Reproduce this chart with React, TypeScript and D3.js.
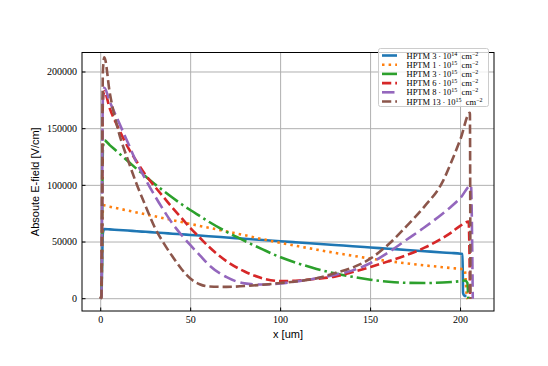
import * as d3 from "d3";

// body grid (um) shared by all six curves
const X_BODY = [2, 5, 10, 15, 20, 25, 30, 35, 40, 45, 50, 55, 60, 70, 80, 90, 100, 110, 120, 130, 140, 150, 160, 170, 180, 190, 195, 200];
const X_LEFT = [0, 0.4, 1.2];

const blueLeft = [0, 3000, 58000];
const blueBody = [61500, 61200, 60600, 60100, 59500, 59000, 58400, 57900, 57300, 56800, 56200, 55700, 55100, 54000, 52900, 51800, 50700, 49600, 48500, 47400, 46300, 45200, 44100, 43000, 41900, 40800, 40300, 39700];
const blueTailX = [201.1, 201.4, 202.2, 203.3];
const blueTailY = [39500, 5000, 2500, 2500];

const orangeLeft = [0, 3000, 78000];
const orangeBody = [82300, 81200, 79500, 77800, 76100, 74400, 72700, 71000, 69300, 67600, 65900, 64200, 62600, 59300, 56000, 52500, 49200, 46200, 43300, 40500, 37900, 35400, 33200, 31200, 29400, 27800, 27000, 26300];
const orangeTailX = [202.3, 203.6, 204];
const orangeTailY = [25800, 1000, 0];

const greenLeft = [0, 3000, 132000];
const greenBody = [139700, 135500, 128500, 121500, 114500, 107800, 101200, 95000, 89000, 83300, 78000, 73000, 68000, 59000, 51000, 43500, 36500, 31000, 26300, 22400, 19300, 16700, 15000, 14000, 13800, 14300, 14800, 15500];
const greenTailX = [202.5, 203.8, 204.3];
const greenTailY = [16000, 14000, 0];

const redLeft = [0, 3000, 174000];
const redBody = [183000, 168000, 150000, 134000, 121000, 109000, 99000, 89500, 80000, 71000, 62000, 54000, 46000, 33000, 24000, 18000, 15500, 16000, 17500, 19500, 23500, 28000, 33000, 38500, 45000, 53500, 58500, 64500];
const redTailX = [204.5, 205.3];
const redTailY = [68000, 0];

const purpleLeft = [0, 3000, 177000];
const purpleBody = [186000, 174000, 156000, 138000, 120000, 105000, 91000, 78000, 66000, 56000, 47000, 38500, 30000, 19000, 13500, 12500, 13500, 15500, 18000, 21000, 25000, 31500, 41000, 52000, 63000, 75000, 81500, 89000];
const purpleTailX = [205.8, 206.8];
const purpleTailY = [100000, 0];

const brownLeft = [0, 3000, 200000];
const brownBody = [213000, 182000, 147000, 123000, 101000, 81500, 63000, 49000, 37000, 26000, 17500, 12800, 10800, 10400, 11200, 12300, 13800, 15500, 18000, 22500, 27500, 35500, 48000, 64000, 81500, 103000, 121000, 141000];
const brownTailX = [205.2, 205.5];
const brownTailY = [164000, 0];

const LABEL_BASE = ["3", "1", "3", "6", "8", "13"];
const LABEL_EXP = ["14", "15", "15", "15", "15", "15"];
const COLORS = ["#1f77b4", "#ff7f0e", "#2ca02c", "#d62728", "#9467bd", "#8c564b"];
const DASHES = ["none", "2.5,4.1", "16,4,2.5,4", "9.25,4", "12.5,5", "9.25,4"];

const X_TICKS = [0, 50, 100, 150, 200];
const Y_TICKS = [0, 50000, 100000, 150000, 200000];

const build = (left: number[], body: number[], tx: number[], ty: number[]) => [
  ...X_LEFT.map((x, i) => [x, left[i]]),
  ...X_BODY.map((x, i) => [x, body[i]]),
  ...tx.map((x, i) => [x, ty[i]]),
] as [number, number][];

const SERIES = [
  build(blueLeft, blueBody, blueTailX, blueTailY),
  build(orangeLeft, orangeBody, orangeTailX, orangeTailY),
  build(greenLeft, greenBody, greenTailX, greenTailY),
  build(redLeft, redBody, redTailX, redTailY),
  build(purpleLeft, purpleBody, purpleTailX, purpleTailY),
  build(brownLeft, brownBody, brownTailX, brownTailY),
];

export default function App() {
  const W = 548, H = 366;
  const plot = { left: 82, right: 494, top: 52.5, bottom: 311 };

  const x = d3.scaleLinear().domain([-10.4, 218.6]).range([plot.left, plot.right]);
  const y = d3.scaleLinear().domain([-10850, 217200]).range([plot.bottom, plot.top]);

  const line = d3
    .line<[number, number]>()
    .x((d) => x(d[0]))
    .y((d) => y(d[1]))
    .curve(d3.curveMonotoneX);

  const serif = "'Liberation Serif', 'Times New Roman', serif";
  const sans = "'Liberation Sans', Arial, sans-serif";

  // legend layout
  const lg = { x: 378.5, y: 48.5, w: 110, h: 58, row: 9.2 };

  return (
    <svg width={W} height={H} style={{ position: "absolute", left: 0, top: 0 }}>
      <rect width={W} height={H} fill="#fff" />
      <defs>
        <clipPath id="plotClip">
          <rect x={plot.left} y={plot.top} width={plot.right - plot.left} height={plot.bottom - plot.top} />
        </clipPath>
      </defs>

      {/* grid */}
      {X_TICKS.map((t) => (
        <line key={"gx" + t} x1={x(t)} x2={x(t)} y1={plot.top} y2={plot.bottom} stroke="#b0b0b0" strokeWidth={1} />
      ))}
      {Y_TICKS.map((t) => (
        <line key={"gy" + t} x1={plot.left} x2={plot.right} y1={y(t)} y2={y(t)} stroke="#b0b0b0" strokeWidth={1} />
      ))}

      {/* curves */}
      <g clipPath="url(#plotClip)">
        {SERIES.map((s, i) => (
          <path
            key={i}
            d={line(s) ?? ""}
            fill="none"
            stroke={COLORS[i]}
            strokeWidth={2.6}
            strokeDasharray={DASHES[i]}
          />
        ))}
      </g>

      {/* frame */}
      <rect
        x={plot.left}
        y={plot.top}
        width={plot.right - plot.left}
        height={plot.bottom - plot.top}
        fill="none"
        stroke="#000"
        strokeWidth={1}
      />

      {/* ticks (inward) + labels */}
      {X_TICKS.map((t) => (
        <g key={"tx" + t}>
          <line x1={x(t)} x2={x(t)} y1={plot.bottom} y2={plot.bottom - 3.5} stroke="#000" strokeWidth={1} />
          <text x={x(t)} y={plot.bottom + 12} textAnchor="middle" fontSize={10} fontFamily={serif} fill="#000">
            {t}
          </text>
        </g>
      ))}
      {Y_TICKS.map((t) => (
        <g key={"ty" + t}>
          <line x1={plot.left} x2={plot.left + 3.5} y1={y(t)} y2={y(t)} stroke="#000" strokeWidth={1} />
          <text x={plot.left - 5} y={y(t) + 3.4} textAnchor="end" fontSize={10} fontFamily={serif} fill="#000">
            {t}
          </text>
        </g>
      ))}

      <text x={(plot.left + plot.right) / 2} y={338} textAnchor="middle" fontSize={11} fontFamily={sans} fill="#000">
        x [um]
      </text>
      <text
        transform={`translate(39,${(plot.top + plot.bottom) / 2}) rotate(-90)`}
        textAnchor="middle"
        fontSize={11}
        fontFamily={sans}
        fill="#000"
      >
        Absoute E-field [V/cm]
      </text>

      {/* legend */}
      <rect x={lg.x} y={lg.y} width={lg.w} height={lg.h} rx={2} fill="#fff" fillOpacity={0.8} stroke="#cccccc" strokeWidth={1} />
      {COLORS.map((c, i) => {
        const ry = lg.y + 7 + i * lg.row;
        return (
          <g key={"lg" + i}>
            <line x1={lg.x + 3.5} x2={lg.x + 18.5} y1={ry} y2={ry} stroke={c} strokeWidth={2.6} strokeDasharray={DASHES[i]} />
            <text x={lg.x + 28} y={ry + 3} fontSize={8.5} fontFamily={serif} fill="#000">
              {`HPTM ${LABEL_BASE[i]}\u2009·\u200910`}
              <tspan fontSize={6} dy={-3}>{LABEL_EXP[i]}</tspan>
              <tspan dy={3}>{"\u2002cm"}</tspan>
              <tspan fontSize={6} dy={-3}>−2</tspan>
            </text>
          </g>
        );
      })}
    </svg>
  );
}
